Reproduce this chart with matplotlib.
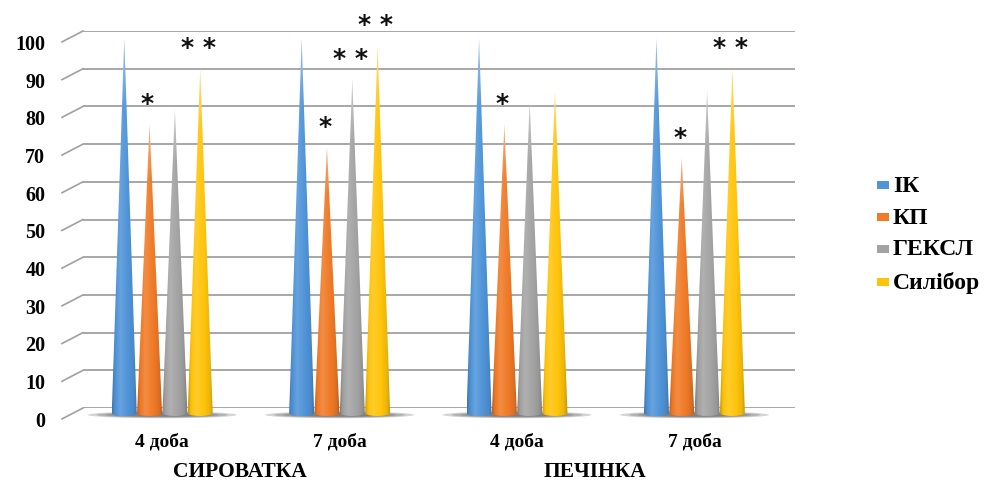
import numpy as np
import matplotlib.pyplot as plt
import matplotlib.transforms as mtransforms
from matplotlib.patches import Polygon, Ellipse, Rectangle
from matplotlib.colors import to_rgb

groups = ['4 доба', '7 доба', '4 доба', '7 доба']
organs = ['СИРОВАТКА', 'ПЕЧІНКА']
organ_pos = [0.44, 2.44]
series = ['ІК', 'КП', 'ГЕКСЛ', 'Силібор']
colors = ['#4f94d8', '#f07a26', '#a3a3a3', '#ffc40a']

ik = [100, 100, 100, 100]
kp = [77, 71, 77, 68]
geksl = [81, 89, 83, 86]
silibor = [92, 98, 86, 92]

# significance marks drawn over the cones
marks_ik = ['', '', '', '']
marks_kp = ['*', '*', '*', '*']
marks_geksl = ['', '**', '', '']
marks_silibor = ['**', '**', '', '**']

yticks = list(range(0, 101, 10))

values = [ik, kp, geksl, silibor]
marks = [marks_ik, marks_kp, marks_geksl, marks_silibor]

SERIF = ['Liberation Serif', 'DejaVu Serif']
plt.rcParams['font.family'] = SERIF
plt.rcParams['font.weight'] = 'bold'

W, H = 992, 481
fig = plt.figure(figsize=(W / 100, H / 100), dpi=100)


def px(x0, top, x1, bottom):
    # pixel box (from top-left) -> figure fraction rect
    return [x0 / W, (H - bottom) / H, (x1 - x0) / W, (bottom - top) / H]


# back wall with gridlines
wall = fig.add_axes(px(83, 32, 795, 409), zorder=0)
wall.set_xlim(0, 1)
wall.set_ylim(0, 100)
wall.axis('off')
for v in yticks:
    wall.plot([0, 1], [v, v], color='#a0a0a0', lw=1.3, solid_capstyle='butt')
    wall.plot([-0.0295, 0], [v - 2.9, v], color='#a0a0a0', lw=1.2, clip_on=False)
    wall.text(-0.053, v - 3.4, str(v), ha='right', va='center', fontsize=14.5,
              fontweight='bold', family=SERIF, clip_on=False)

# cones
ax = fig.add_axes(px(62, 1.5, 795, 432.75), zorder=1)
ax.patch.set_alpha(0)
for s in ax.spines.values():
    s.set_visible(False)

step = 0.1427
width = 0.141
ell = 0.8


def cone_image(color, nx=80, ny=160):
    base = np.array(to_rgb(color))
    t = np.linspace(0, 1, nx)
    prof = np.interp(t, [0, 0.1, 0.32, 0.55, 0.85, 1],
                     [-0.22, -0.04, 0.14, 0.03, -0.08, -0.26])
    row = np.empty((nx, 3))
    for i, p in enumerate(prof):
        row[i] = base + (1 - base) * p if p >= 0 else base * (1 + p)
    img = np.repeat(row[None, :, :], ny, axis=0)
    h = np.linspace(0, 1, ny)[:, None, None]
    fade = np.clip((h - 0.82) / 0.18, 0, 1) * 0.4
    img = img + (1 - img) * fade
    return np.clip(img, 0, 1)


for g in range(len(groups)):
    for k in range(4):
        sh = Ellipse((g + 0.0, -0.5), 0.84 - k * 0.1, 1.8 - k * 0.3,
                     facecolor='#2a2a2a', edgecolor='none', alpha=0.2, zorder=2)
        ax.add_patch(sh)

for si, (vals, col) in enumerate(zip(values, colors)):
    img = cone_image(col)
    for g, v in enumerate(vals):
        x = g + (si - 1.5) * step
        th = np.linspace(np.pi, 2 * np.pi, 30)
        bottom = np.column_stack([x + width / 2 * np.cos(th), ell * np.sin(th)])
        verts = np.vstack([[x, v], bottom, [x, v]])
        poly = Polygon(verts, closed=True, facecolor='none', edgecolor='none',
                       transform=ax.transData)
        ax.add_patch(poly)
        im = ax.imshow(img, extent=(x - width / 2, x + width / 2, -ell, v),
                       origin='lower', aspect='auto', interpolation='bilinear',
                       zorder=3)
        im.set_clip_path(poly)
        m = marks[si][g]
        if m:
            ax.text(x - 0.012, v + 5.6, ' '.join(m), ha='center', va='center',
                    fontsize=18, fontweight='bold', family='DejaVu Sans',
                    color='#111111', zorder=4, clip_on=False)

ax.set_xlim(-0.565, 3.567)
ax.set_ylim(-5, 110)
ax.set_yticks([])
ax.set_xticks(range(len(groups)), groups)
ax.tick_params(axis='x', length=0, pad=0, labelsize=14)
for lbl in ax.get_xticklabels():
    lbl.set_fontweight('bold')

trans = mtransforms.blended_transform_factory(ax.transData, fig.transFigure)
for name, xp in zip(organs, organ_pos):
    fig.text(xp, (H - 472) / H, name, transform=trans, ha='center', va='center',
             fontsize=15.5, fontweight='bold', family=SERIF)

# legend
rows = [186, 218, 250, 283]
for name, col, ry in zip(series, colors, rows):
    fig.add_artist(Rectangle((877 / W, (H - ry - 4) / H), 12 / W, 8 / H,
                             transform=fig.transFigure, facecolor=col,
                             edgecolor='none'))
    fig.text(893 / W, (H - ry) / H, name, ha='left', va='center', fontsize=17,
             fontweight='bold', family=SERIF)

fig.savefig('out.png', dpi=100)
